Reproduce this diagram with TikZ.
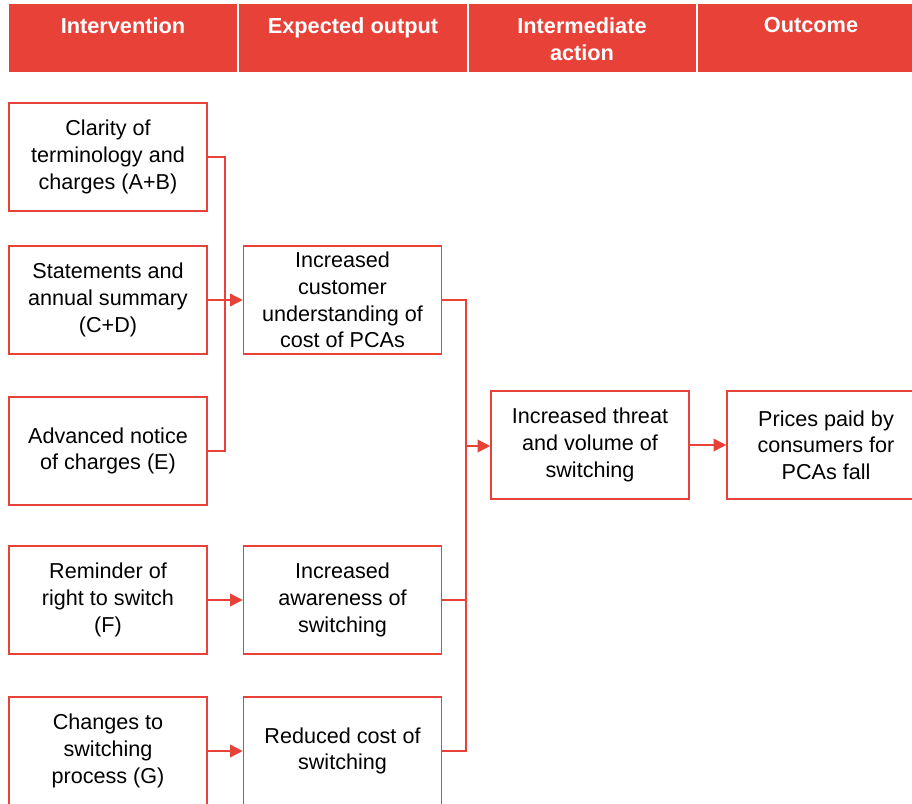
\documentclass[tikz,border=0pt]{standalone}
\usepackage{fontspec}
\setmainfont{Liberation Sans}
\usetikzlibrary{arrows.meta}
\definecolor{pcred}{RGB}{232,65,56}
\begin{document}
\begin{tikzpicture}[x=0.75pt,y=-0.75pt,
  hdr/.style={fill=pcred, draw=none},
  hdrtext/.style={anchor=north, inner sep=0pt, text=white, align=center,
    font=\fontsize{16.3}{20.25}\selectfont\bfseries},
  box/.style={draw=pcred, line width=1.2pt, fill=white, minimum width=148.5pt,
    minimum height=81pt, inner sep=0pt, align=center,
    font=\fontsize{16.2}{20}\selectfont},
  link/.style={draw=pcred, line width=1.2pt},
  arrow/.style={link, -{Triangle[length=9.5pt,width=9.5pt]}}]
\useasboundingbox (0,0) rectangle (912,803);
\clip (0,0) rectangle (912,803);

% column headings
\fill[hdr] (9,4) rectangle (237,72);
\fill[hdr] (239,4) rectangle (467,72);
\fill[hdr] (469,4) rectangle (696,72);
\fill[hdr] (698,4) rectangle (930,72);
\node[hdrtext] (h1) at (123,17) {Intervention};
\node[hdrtext] (h2) at (353,17) {Expected output};
\node[hdrtext] (h3) at (582,17) {Intermediate\\action};
\node[hdrtext] (h4) at (811,17) {Outcome};

% interventions
\node[box] (i1) at (108,157) {Clarity of\\terminology and\\charges (A+B)};
\node[box] (i2) at (108,300) {Statements and\\annual summary\\(C+D)};
\node[box] (i3) at (108,451) {Advanced notice\\of charges (E)};
\node[box] (i4) at (108,600) {Reminder of\\right to switch\\(F)};
\node[box] (i5) at (108,751) {Changes to\\switching\\process (G)};

% expected outputs
\node[box] (o1) at (342.5,300) {Increased\\customer\\understanding of\\cost of PCAs};
\node[box] (o2) at (342.5,600) {Increased\\awareness of\\switching};
\node[box] (o3) at (342.5,751) {Reduced cost of\\switching};

% intermediate action and outcome
\node[box] (a1) at (590,445) {Increased threat\\and volume of\\switching};
\node[box] (f1) at (826,445) {Prices paid by\\consumers for\\PCAs fall};

% junction points of the collecting lines
\coordinate (s1) at (225,300);
\coordinate (s2) at (466,446);

% connectors
\draw[link] (i1.east) -| (s1) |- (i3.east);
\draw[arrow] (i2.east) -- (o1.west);
\draw[arrow] (i4.east) -- (o2.west);
\draw[arrow] (i5.east) -- (o3.west);
\draw[link] (o1.east) -| (s2) |- (o3.east);
\draw[link] (o2.east) -- (o2.east -| s2);
\draw[arrow] (s2) -- (s2 -| a1.west);
\draw[arrow] (a1.east) -- (f1.west);
\end{tikzpicture}
\end{document}
